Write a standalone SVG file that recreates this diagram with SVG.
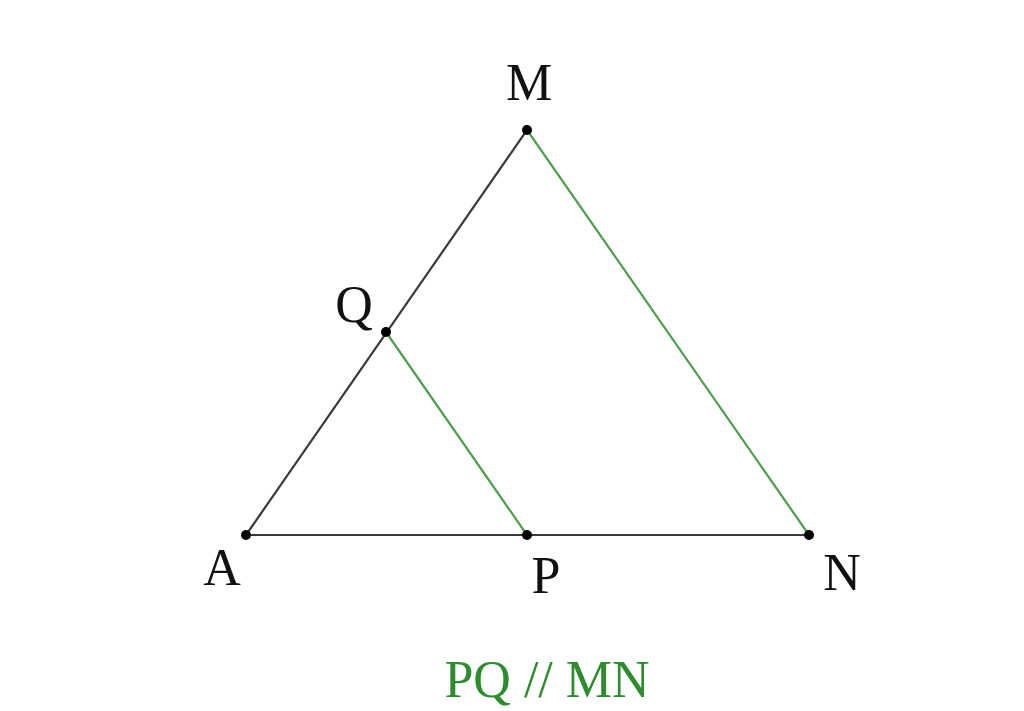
<svg xmlns="http://www.w3.org/2000/svg" width="1024" height="711" viewBox="0 0 1024 711">
<style>
.lbl{font-family:"Liberation Serif","Times New Roman",serif;font-size:52px;fill:#111}
.edge{stroke:#3a3a3a;stroke-width:2.2;fill:none}
.par{stroke:#4e9e4e;stroke-width:2.2;fill:none}
.pt{fill:#000}
</style>
<rect width="1024" height="711" fill="#fff"/>
<g id="connectors">
<line class="edge" x1="246" y1="535" x2="527" y2="130"/>
<line class="edge" x1="246" y1="535" x2="809" y2="535"/>
<line class="par" x1="527" y1="130" x2="809" y2="535"/>
<line class="par" x1="386" y1="332" x2="527" y2="535"/>
</g>
<g id="M"><circle class="pt" cx="527" cy="130" r="5"/><text class="lbl" x="529" y="100" text-anchor="middle">M</text></g>
<g id="Q"><circle class="pt" cx="386" cy="332" r="5"/><text class="lbl" x="354" y="322" text-anchor="middle">Q</text></g>
<g id="A"><circle class="pt" cx="246" cy="535" r="5"/><text class="lbl" x="222" y="585" text-anchor="middle">A</text></g>
<g id="P"><circle class="pt" cx="527" cy="535" r="5"/><text class="lbl" x="546" y="593" text-anchor="middle">P</text></g>
<g id="N"><circle class="pt" cx="809" cy="535" r="5"/><text class="lbl" x="842" y="590" text-anchor="middle">N</text></g>
<g id="caption"><text x="547" y="697" text-anchor="middle" font-family="Liberation Serif, Times New Roman, serif" font-size="52" fill="#2e8b2e">PQ // MN</text></g>
</svg>
